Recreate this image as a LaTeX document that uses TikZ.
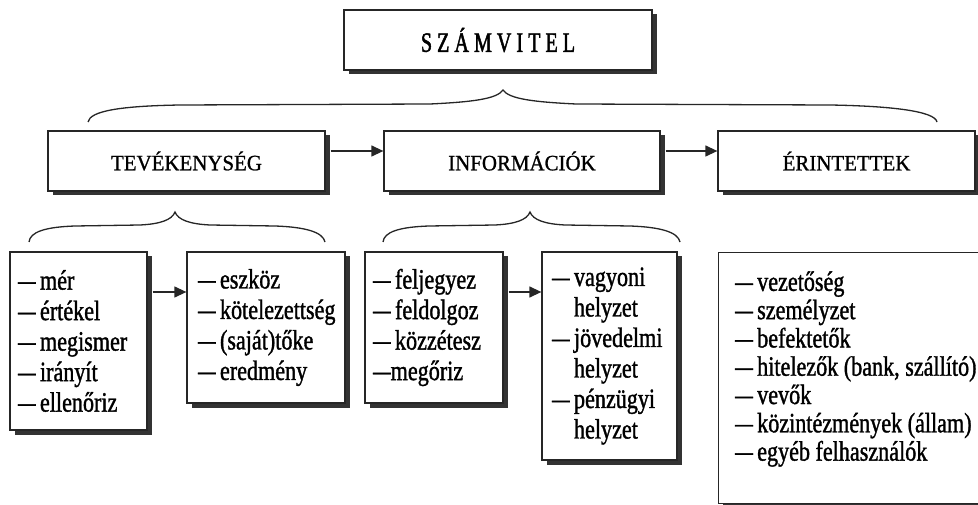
\documentclass[tikz,border=0pt]{standalone}
\usepackage{fontspec}
\setmainfont{Liberation Serif}
\newfontfamily\condf[FakeStretch=0.79,FakeBold=1.2]{Liberation Serif}
\newfontfamily\headf[FakeStretch=0.95,FakeBold=1.0]{Liberation Serif}
\newfontfamily\titf[FakeStretch=0.72,FakeBold=1.6]{Liberation Serif}
\usetikzlibrary{arrows.meta,shadows}
\newcommand\dd{\makebox[22pt][l]{\scalebox{0.8}[1]{—}}}
\newcommand\ddn{\scalebox{0.8}[1]{—}}
\newcommand\ind{\hspace*{22pt}}
\newcommand\tsp{\hspace{5pt}}
\tikzset{
  box/.style={draw=black!85, line width=1.3pt, fill=white, rectangle,
    drop shadow={shadow xshift=4.5pt, shadow yshift=-4.5pt, opacity=1, fill=black!80}},
  head/.style={box, font=\headf\fontsize{22}{26}\selectfont, minimum height=60pt, inner sep=0pt},
  listbox/.style={box, font=\condf\fontsize{28}{30.5}\selectfont, align=left, inner ysep=0pt},
  arr/.style={draw=black!85, line width=1.3pt, -{Triangle[length=12pt,width=11pt]}},
  brc/.style={draw=black!85, line width=1.3pt}
}
\begin{document}
\begin{tikzpicture}[x=1pt,y=-1pt]
\useasboundingbox[fill=white] (0,0) rectangle (978,505);

% title
\node[head, minimum width=308pt, font=\titf\fontsize{28}{30}\selectfont] (title) at (498,40)
  {S\tsp Z\tsp Á\tsp M\tsp V\tsp I\tsp T\tsp E\tsp L};

% main brace
\draw[brc] (88,122) .. controls (90,111) and (120,106) .. (180,105)
  -- (430,104) .. controls (472,102) and (497,99) .. (503,90)
  .. controls (509,99) and (534,102) .. (576,104)
  -- (830,105) .. controls (890,106) and (935,111) .. (937,122);

% headers
\node[head, minimum width=277pt] (tev) at (186.5,161) {TEVÉKENYSÉG};
\node[head, minimum width=276pt] (inf) at (522,161) {INFORMÁCIÓK};
\node[head, minimum width=257pt] (eri) at (846.5,161) {ÉRINTETTEK};

\draw[arr] ([xshift=5pt,yshift=10pt]tev.east) -- ([yshift=10pt]inf.west);
\draw[arr] ([xshift=5pt,yshift=10pt]inf.east) -- ([yshift=10pt]eri.west);

% sub braces
\draw[brc] (29,242) .. controls (30,232) and (45,227) .. (75,226)
  -- (140,225) .. controls (160,224) and (172,220) .. (175,212)
  .. controls (178,220) and (190,224) .. (210,225)
  -- (275,226) .. controls (305,227) and (323,232) .. (325,242);
\draw[brc] (383,242) .. controls (384,232) and (399,227) .. (429,226)
  -- (495,225) .. controls (515,224) and (527,220) .. (530,212)
  .. controls (533,220) and (545,224) .. (565,225)
  -- (630,226) .. controls (660,227) and (678,232) .. (680,242);

% list boxes
\node[listbox, minimum width=137pt, minimum height=178pt, text width=121pt, inner xsep=8pt] (b1) at (78.5,341)
  {\dd mér\\ \dd értékel\\ \dd megismer\\ \dd irányít\\ \dd ellenőriz};
\node[listbox, minimum width=158pt, minimum height=151pt, text width=136pt, inner xsep=11pt] (b2) at (266,327.5)
  {\dd eszköz\\ \dd kötelezettség\\ \dd (saját)tőke\\ \dd eredmény};
\node[listbox, minimum width=138pt, minimum height=151pt, text width=122pt, inner xsep=8pt] (b3) at (434,327.5)
  {\dd feljegyez\\ \dd feldolgoz\\ \dd közzétesz\\ \ddn megőriz};
\node[listbox, minimum width=135pt, minimum height=208pt, text width=115pt, inner xsep=10pt] (b4) at (609.5,356)
  {\dd vagyoni\\ \ind helyzet\\ \dd jövedelmi\\ \ind helyzet\\ \dd pénzügyi\\ \ind helyzet};

\draw[arr] ([xshift=5pt,yshift=49pt]b1.east) -- ([yshift=35.5pt]b2.west);
\draw[arr] ([xshift=5pt,yshift=35.5pt]b3.east) -- ([yshift=64pt]b4.west);

% last box (cut by the border)
\begin{scope}
\clip (0,0) rectangle (978,505);
\node[box, minimum width=290pt, minimum height=251pt, anchor=north west] (b5) at (718,252) {};
\end{scope}
\node[anchor=west, inner sep=0pt, align=left, font=\condf\fontsize{28}{28.3}\selectfont] (t5) at (735,369)
  {\dd vezetőség\\ \dd személyzet\\ \dd befektetők\\ \dd hitelezők (bank, szállító)\\ \dd vevők\\ \dd közintézmények (állam)\\ \dd egyéb felhasználók};
\end{tikzpicture}
\end{document}
